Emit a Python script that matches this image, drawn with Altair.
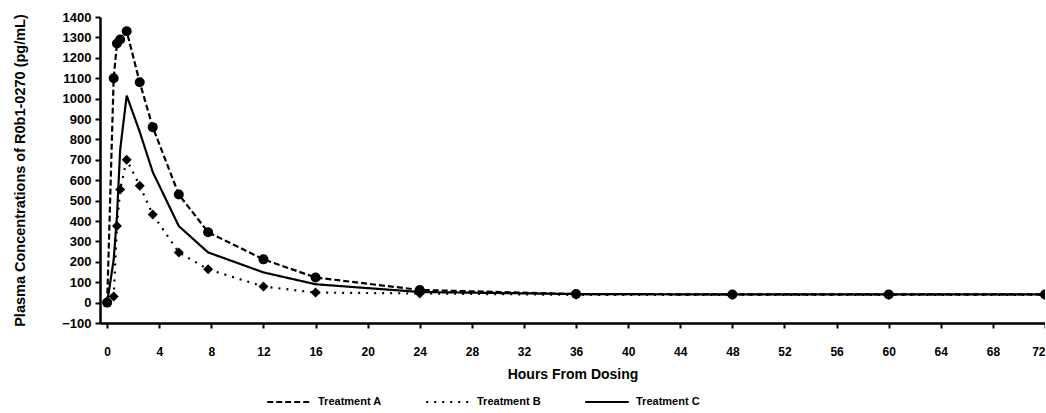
import altair as alt
import pandas as pd

# Sampling times (hours after dose) and plasma concentration per treatment (pg/mL)
hours = [0, 0.5, 0.75, 1, 1.5, 2.5, 3.5, 5.5, 7.75, 12, 16, 24, 36, 48, 60, 72]
treatment_a = [0, 1100, 1270, 1290, 1330, 1080, 860, 530, 345, 212, 123, 62, 42, 40, 40, 40]
treatment_b = [0, 30, 375, 555, 700, 573, 432, 246, 163, 79, 49, 45, 38, 38, 38, 38]
treatment_c = [0, 210, 420, 750, 1015, 837, 640, 375, 246, 148, 90, 52, 42, 40, 40, 40]

treatments = ["Treatment A", "Treatment B", "Treatment C"]
x_ticks = list(range(0, 73, 4))
y_ticks = list(range(-100, 1401, 100))

rows = []
for name, values in zip(treatments, [treatment_a, treatment_b, treatment_c]):
    for h, v in zip(hours, values):
        rows.append({"Hours": h, "Conc": v, "Treatment": name})
df = pd.DataFrame(rows)

FONT = "Liberation Sans"

x_enc = alt.X(
    "Hours:Q",
    scale=alt.Scale(domain=[-0.55, 72], nice=False, zero=False),
    axis=alt.Axis(
        values=x_ticks,
        format="d",
        title="Hours From Dosing",
        grid=False,
        tickSize=5,
        labelPadding=18,
        titlePadding=10,
    ),
)
y_enc = alt.Y(
    "Conc:Q",
    scale=alt.Scale(domain=[-100, 1400], nice=False, zero=False),
    axis=alt.Axis(
        values=y_ticks,
        format="d",
        title="Plasma Concentrations of R0b1-0270 (pg/mL)",
        grid=False,
        tickSize=5,
        labelPadding=4,
        titlePadding=34,
    ),
)

lines = alt.Chart(df).mark_line(color="black", strokeWidth=2.2).encode(
    x=x_enc,
    y=y_enc,
    strokeDash=alt.StrokeDash(
        "Treatment:N",
        scale=alt.Scale(domain=treatments, range=[[6, 3], [2, 6], [1, 0]]),
        legend=alt.Legend(
            title=None,
            symbolType="stroke",
            symbolStrokeColor="black",
            symbolStrokeWidth=2,
            symbolSize=1900,
        ),
    ),
)

points = (
    alt.Chart(df)
    .transform_filter(alt.FieldOneOfPredicate(field="Treatment", oneOf=treatments[:2]))
    .mark_point(filled=True, color="black", size=100, opacity=1)
    .encode(
        x=x_enc,
        y=y_enc,
        shape=alt.Shape(
            "Treatment:N",
            scale=alt.Scale(domain=treatments[:2], range=["circle", "diamond"]),
            legend=None,
        ),
    )
)

chart = (
    alt.layer(lines, points)
    .properties(
        width=945,
        height=306,
        autosize=alt.AutoSizeParams(type="none"),
        padding={"left": 100, "top": 17, "right": 0, "bottom": 90},
        background="white",
    )
    .configure_view(stroke=None)
    .configure_axis(
        domainColor="black",
        domainWidth=2.5,
        tickColor="black",
        tickWidth=2,
        labelColor="black",
        titleColor="black",
        labelFont=FONT,
        titleFont=FONT,
        labelFontSize=12,
        labelFontWeight="bold",
        titleFontSize=14,
        titleFontWeight="bold",
    )
    .configure_axisY(titleFontSize=14.5, labelFontSize=13)
    .configure_legend(
        orient="none",
        legendX=166,
        legendY=362,
        direction="horizontal",
        labelFont=FONT,
        labelFontSize=11,
        labelFontWeight="bold",
        labelColor="black",
        columnPadding=40,
        labelOffset=6,
    )
)

chart.save("out.html", embed_options={"renderer": "svg", "actions": False})
